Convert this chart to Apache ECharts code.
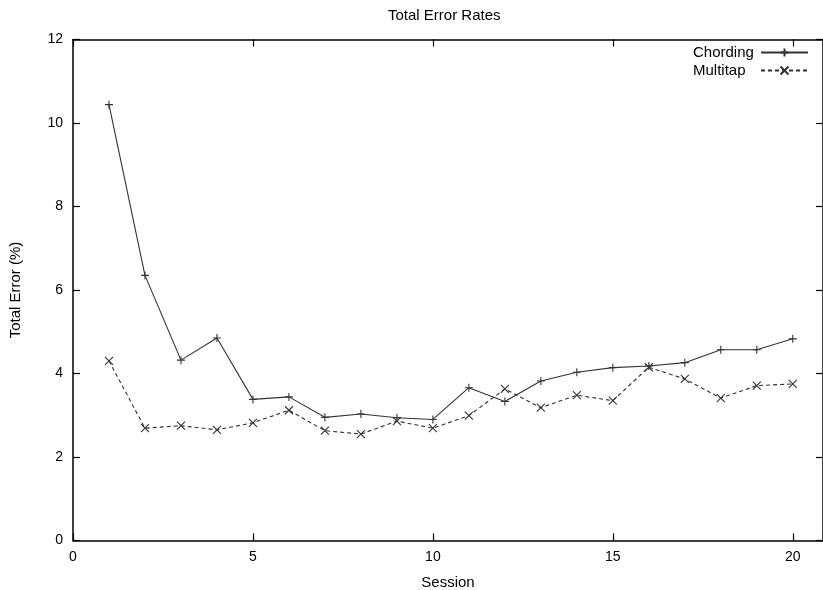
<!DOCTYPE html>
<html>
<head>
<meta charset="utf-8">
<script src="https://cdn.jsdelivr.net/npm/echarts@6/dist/echarts.min.js"></script>
<style>
html,body{margin:0;padding:0;background:#fff;}
#chart{width:823px;height:590px;}
</style>
</head>
<body>
<div id="chart"></div>
<script>
const titleText = 'Total Error Rates';
const xName = 'Session';
const yName = 'Total Error (%)';
const seriesNames = ['Chording', 'Multitap'];
const sessions = [1,2,3,4,5,6,7,8,9,10,11,12,13,14,15,16,17,18,19,20];
const chording = [10.44, 6.35, 4.32, 4.85, 3.38, 3.44, 2.95, 3.03, 2.94, 2.90, 3.66, 3.33, 3.82, 4.03, 4.14, 4.18, 4.26, 4.57, 4.57, 4.83];
const multitap = [4.30, 2.69, 2.75, 2.65, 2.82, 3.12, 2.63, 2.55, 2.86, 2.69, 2.99, 3.63, 3.18, 3.48, 3.35, 4.15, 3.87, 3.41, 3.71, 3.75];
const xTickStep = 5;
const yTicks = [0, 2, 4, 6, 8, 10, 12];

const FONT = '"Liberation Sans", Arial, sans-serif';
const INK = '#000';
const LINE = '#333';

const chart = echarts.init(document.getElementById('chart'), null, {renderer: 'canvas'});

const xMax = 20.84;
const baseX = {
  type: 'value', min: 0, max: xMax, interval: xTickStep,
  splitLine: {show: false},
  axisLine: {show: true, onZero: false, lineStyle: {color: INK, width: 1.5}},
  axisTick: {show: true, inside: true, length: 7, lineStyle: {color: INK, width: 1.2}}
};
const baseY = {
  type: 'value', min: yTicks[0], max: yTicks[yTicks.length - 1], interval: yTicks[1] - yTicks[0],
  splitLine: {show: false},
  axisLine: {show: true, onZero: false, lineStyle: {color: INK, width: 1.5}},
  axisTick: {show: true, inside: true, length: 7, lineStyle: {color: INK, width: 1.2}}
};

const plusPath = 'path://M0,5L10,5M5,0L5,10';
const crossPath = 'path://M0,0L10,10M10,0L0,10';

chart.setOption({
  animation: false,
  backgroundColor: '#fff',
  textStyle: {fontFamily: FONT},
  title: {
    text: titleText,
    left: 388, top: 8, padding: 0,
    textStyle: {fontFamily: FONT, fontSize: 15, fontWeight: 'normal', color: INK}
  },
  legend: {
    orient: 'vertical',
    left: 693, top: 45, padding: 0,
    align: 'right',
    itemWidth: 47, itemHeight: 10, itemGap: 3,
    formatter: name => '{t|' + name + '}',
    textStyle: {
      fontFamily: FONT, fontSize: 15, color: INK,
      rich: {t: {width: 63, align: 'left', fontFamily: FONT, fontSize: 15, color: INK, lineHeight: 18}}
    },
    data: seriesNames
  },
  grid: {left: 73, right: 0, top: 39.5, bottom: 49.5, containLabel: false, outerBoundsMode: 'none'},
  xAxis: [
    Object.assign({}, baseX, {
      position: 'bottom',
      name: xName, nameLocation: 'middle', nameGap: 35,
      nameTextStyle: {fontFamily: FONT, fontSize: 15, color: INK},
      axisLabel: {show: true, margin: 10, fontSize: 14, color: INK, fontFamily: FONT,
        formatter: v => (Math.abs(v % xTickStep) < 1e-9 ? String(v) : '')}
    }),
    Object.assign({}, baseX, {position: 'top', axisLabel: {show: false}})
  ],
  yAxis: [
    Object.assign({}, baseY, {
      position: 'left',
      name: yName, nameLocation: 'middle', nameGap: 50, nameRotate: 90,
      nameTextStyle: {fontFamily: FONT, fontSize: 15, color: INK},
      axisLabel: {show: true, margin: 10, fontSize: 14, color: INK, fontFamily: FONT}
    }),
    Object.assign({}, baseY, {position: 'right', axisLabel: {show: false}})
  ],
  series: [
    {
      name: seriesNames[0], type: 'line',
      xAxisIndex: 0, yAxisIndex: 0,
      data: sessions.map((s, i) => [s, chording[i]]),
      symbol: plusPath, symbolSize: 8, showSymbol: true, showAllSymbol: true,
      lineStyle: {color: LINE, width: 1.1, type: 'solid'},
      itemStyle: {color: LINE, borderColor: LINE, borderWidth: 1.1},
      emphasis: {disabled: true}
    },
    {
      name: seriesNames[1], type: 'line',
      xAxisIndex: 0, yAxisIndex: 0,
      data: sessions.map((s, i) => [s, multitap[i]]),
      symbol: crossPath, symbolSize: 8, showSymbol: true, showAllSymbol: true,
      lineStyle: {color: LINE, width: 1.1, type: [4, 3]},
      itemStyle: {color: LINE, borderColor: LINE, borderWidth: 1.1},
      emphasis: {disabled: true}
    }
  ]
});
</script>
</body>
</html>
